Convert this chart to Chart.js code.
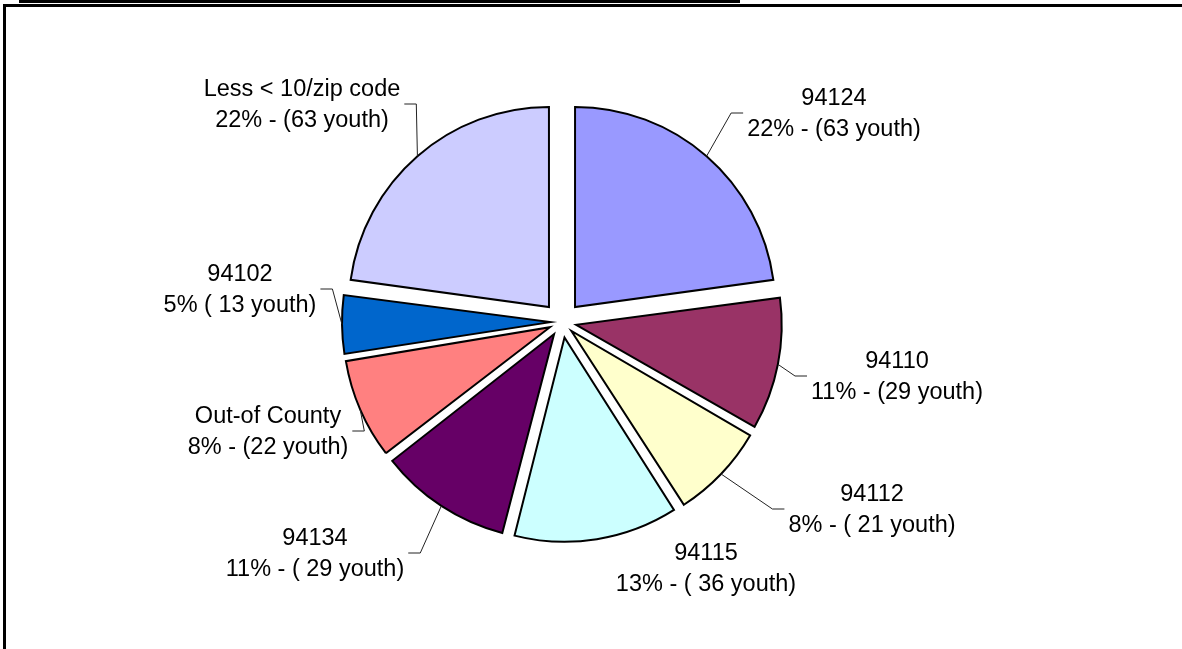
<!DOCTYPE html>
<html>
<head>
<meta charset="utf-8">
<title>Youth by zip code</title>
<script src="https://cdn.jsdelivr.net/npm/chart.js@4.4.1/dist/chart.umd.min.js"></script>
<style>
  html, body { margin: 0; padding: 0; background: #fff; }
  #wrap { position: relative; width: 1182px; height: 649px; overflow: hidden; }
  #title-rule { position: absolute; left: 19px; top: 0; width: 721px; height: 3px; background: #000; }
  #frame { position: absolute; left: 3px; top: 4px; right: -10px; bottom: -10px; border-left: 3px solid #000; border-top: 3px solid #000; }
  #zip-chart { position: absolute; left: 0; top: 0; }
</style>
</head>
<body>
<div id="wrap">
  <div id="title-rule"></div>
  <div id="frame"></div>
  <canvas id="zip-chart" width="1182" height="649"></canvas>
</div>
<script>
// youth per zip code, clockwise from 12 o'clock
const zipCodes = ['94124', '94110', '94112', '94115', '94134', 'Out-of County', '94102', 'Less < 10/zip code'];
const youthCounts = [63, 29, 21, 36, 29, 22, 13, 63];
const detailLabels = [
    '22% - (63 youth)',
    '11% - (29 youth)',
    '8% - ( 21 youth)',
    '13% - ( 36 youth)',
    '11% - ( 29 youth)',
    '8% - (22 youth)',
    '5% ( 13 youth)',
    '22% - (63 youth)'
];
const sliceColors = ['#9999FF', '#993366', '#FFFFCC', '#CCFFFF', '#660066', '#FF8080', '#0066CC', '#CCCCFF'];

const EXPLODE = 20; // px every slice is pulled out of the pie
const totalYouth = youthCounts.reduce((a, b) => a + b, 0);

// Chart.js scales the arc offset by slice size, undo that so all slices move the same distance
function sliceOffset(c) {
    const circ = c.dataset.data[c.dataIndex] / totalYouth * Math.PI * 2;
    return 4 * EXPLODE / (2 - Math.sin(Math.min(Math.PI, circ)));
}

function arcShift(arc) {
    const circ = arc.endAngle - arc.startAngle;
    return (arc.options.offset || 0) / 4 * (2 - Math.sin(Math.min(Math.PI, circ)));
}

// two line labels with elbow leader lines
const calloutLabels = {
    id: 'calloutLabels',
    afterDatasetsDraw(chart, args, opts) {
        const ctx = chart.ctx;
        const arcs = chart.getDatasetMeta(0).data;
        ctx.save();
        ctx.font = opts.font;
        ctx.fillStyle = '#000';
        ctx.textAlign = 'center';
        ctx.textBaseline = 'middle';
        arcs.forEach((arc, i) => {
            const spot = opts.spots[i];
            const cx = arc.x + spot[0];
            const cy = arc.y + spot[1];
            const lines = [zipCodes[i], detailLabels[i]];
            lines.forEach((t, k) => ctx.fillText(t, cx, cy + (k - 0.5) * opts.lineHeight));

            if (!spot[2]) return;
            const w = Math.max(...lines.map(t => ctx.measureText(t).width));
            const mid = (arc.startAngle + arc.endAngle) / 2;
            const r = arc.outerRadius + arcShift(arc);
            const ax = arc.x + Math.cos(mid) * r;
            const ay = arc.y + Math.sin(mid) * r;
            const side = spot[0] > 0 ? 1 : -1;
            const edgeX = cx - side * (w / 2 + 4);
            const elbowX = edgeX - side * 12;
            const ly = cy - 1;

            ctx.beginPath();
            ctx.strokeStyle = '#222';
            ctx.lineWidth = 1;
            ctx.moveTo(ax, ay);
            ctx.lineTo(elbowX, ly);
            ctx.lineTo(edgeX, ly);
            ctx.stroke();
        });
        ctx.restore();
    }
};

const ctx = document.getElementById('zip-chart').getContext('2d');
const chart = new Chart(ctx, {
    type: 'pie',
    data: {
        labels: zipCodes,
        datasets: [{
            data: youthCounts,
            backgroundColor: sliceColors,
            borderColor: '#000',
            borderWidth: 2,
            borderJoinStyle: 'miter',
            offset: sliceOffset,
            radius: 200
        }]
    },
    options: {
        responsive: false,
        animation: false,
        layout: {
            padding: { left: 100, right: 158, top: 80, bottom: 85 }
        },
        plugins: {
            legend: { display: false },
            tooltip: { enabled: false },
            calloutLabels: {
                font: '23.5px "Liberation Sans", Arial, sans-serif',
                lineHeight: 31,
                // label block centre relative to the pie centre, and whether it gets a leader
                spots: [
                    [272, -208, true],
                    [335, 55, true],
                    [310, 188, true],
                    [144, 247, false],
                    [-247, 232, true],
                    [-294, 110, true],
                    [-322, -32, true],
                    [-260, -217, true]
                ]
            }
        }
    },
    plugins: [calloutLabels]
});
</script>
</body>
</html>
